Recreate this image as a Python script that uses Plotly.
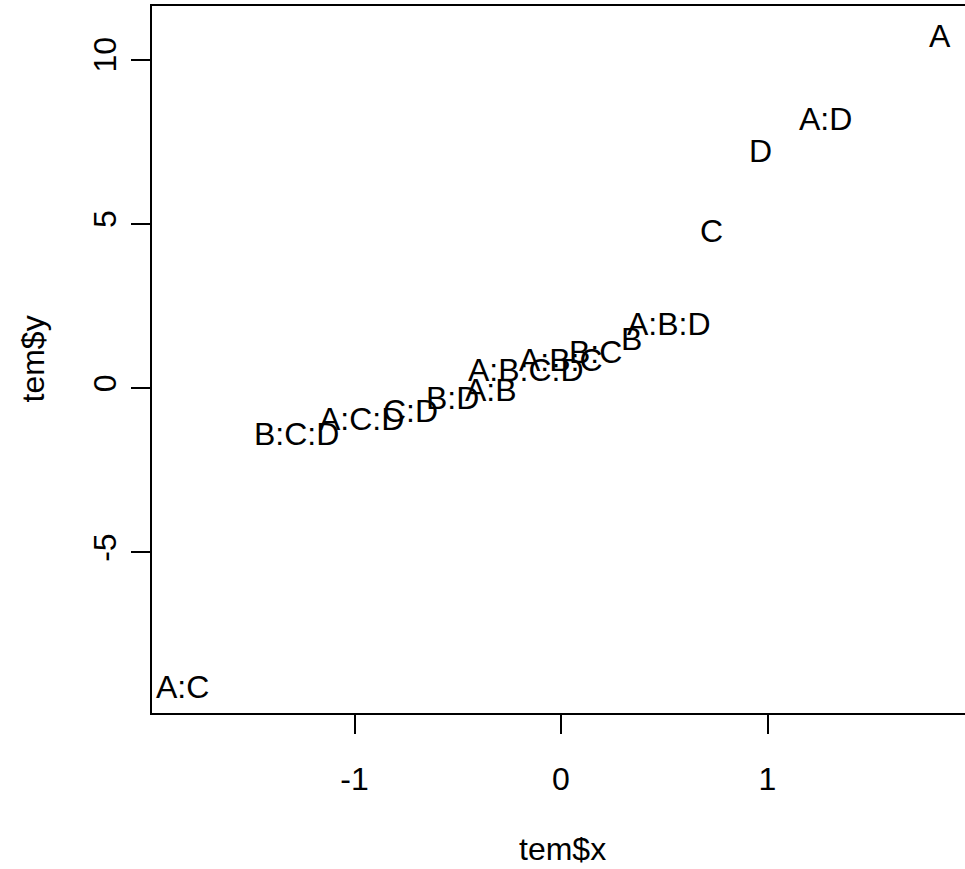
import plotly.graph_objects as go

# Effect labels of a 2^4 factorial, ordered from smallest to largest effect
effects = ["A:C", "B:C:D", "A:C:D", "C:D", "B:D", "A:B", "A:B:C:D", "A:B:C",
           "B:C", "B", "A:B:D", "C", "D", "A:D", "A"]
effect_values = [-9.14, -1.42, -0.96, -0.72, -0.32, -0.09, 0.51, 0.82,
                 1.07, 1.45, 1.93, 4.76, 7.20, 8.17, 10.68]

# Normal scores: qnorm(ppoints(15)) = qnorm((i - 0.5) / 15)
normal_scores = [-1.8339, -1.2816, -0.9674, -0.7279, -0.5244, -0.3407, -0.1679, 0.0,
                 0.1679, 0.3407, 0.5244, 0.7279, 0.9674, 1.2816, 1.8339]

x_ticks = [-1, 0, 1]
y_ticks = [-5, 0, 5, 10]

FONT = "Liberation Sans, Arial, Helvetica, sans-serif"
FS = 32

W, H = 965, 869
L, T, B = 152, 6, 156
px_per_x = 206.5

# R-style 4% padding around the data on the x axis
xr = max(normal_scores) - min(normal_scores)
x_lo = min(normal_scores) - 0.04 * xr
x_hi = x_lo + (W - L) / px_per_x
y_lo, y_hi = -9.89, 11.63

fig = go.Figure()
# invisible anchor trace so the axes exist
fig.add_trace(go.Scatter(x=normal_scores, y=effect_values, mode="markers",
                         marker=dict(opacity=0), hoverinfo="skip", showlegend=False))

# effect names written at their (normal score, effect) positions
label_annotations = [
    dict(x=xv, y=yv, xref="x", yref="y", text=name, showarrow=False,
         xanchor="center", yanchor="middle", yshift=1,
         font=dict(family=FONT, size=FS, color="black"))
    for xv, yv, name in zip(normal_scores, effect_values, effects)
]

fig.update_layout(
    width=W, height=H,
    margin=dict(l=L, r=0, t=T, b=B),
    paper_bgcolor="white", plot_bgcolor="white",
    font=dict(family=FONT, size=FS, color="black"),
    xaxis=dict(
        range=[x_lo, x_hi], tickvals=x_ticks, ticktext=[str(v) for v in x_ticks],
        showgrid=False, zeroline=False, showline=True, linecolor="black",
        linewidth=2, mirror=True, ticks="outside", ticklen=19, tickwidth=1.5,
        tickcolor="black", tickfont=dict(family=FONT, size=FS),
        ticklabelstandoff=18,
    ),
    yaxis=dict(
        range=[y_lo, y_hi], tickvals=y_ticks, ticktext=[str(v) for v in y_ticks],
        showgrid=False, zeroline=False, showline=True, linecolor="black",
        linewidth=2, ticks="outside", ticklen=19, tickwidth=1.5,
        tickcolor="black", tickfont=dict(family=FONT, size=FS), tickangle=-90,
        ticklabelstandoff=2,
    ),
    annotations=label_annotations + [
        dict(text="tem$x", xref="paper", yref="paper", x=(562 - L) / (W - L), y=0,
             xanchor="center", yanchor="middle", yshift=-136, showarrow=False,
             font=dict(family=FONT, size=FS)),
        dict(text="tem$y", xref="paper", yref="paper", x=0, y=0.5,
             xanchor="center", yanchor="middle", xshift=-(L - 32), textangle=-90,
             showarrow=False, font=dict(family=FONT, size=FS)),
    ],
)

fig.write_html("out.html")
